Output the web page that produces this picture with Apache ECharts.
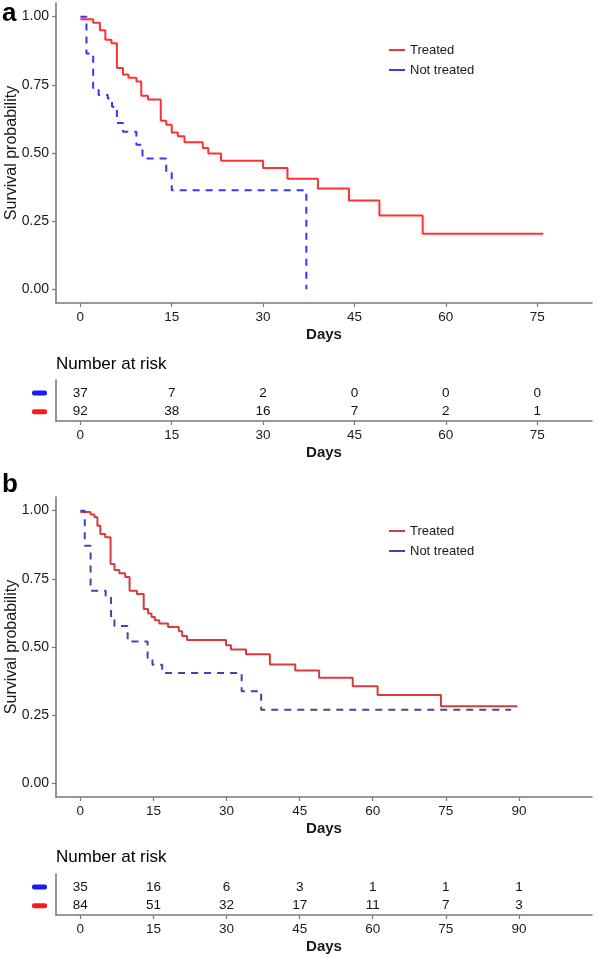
<!DOCTYPE html>
<html><head><meta charset="utf-8">
<script src="https://cdn.jsdelivr.net/npm/echarts@6/dist/echarts.min.js"></script>
<style>html,body{margin:0;padding:0;background:#fff}#c{width:598px;height:958px}</style>
</head><body><div id="c"></div>
<script>
// ---------- data ----------
const xTicksA = [0, 15, 30, 45, 60, 75];
const xTicksB = [0, 15, 30, 45, 60, 75, 90];
const yTicks = [0, 0.25, 0.5, 0.75, 1];

// panel a : Kaplan-Meier steps (time in days, survival probability)
const aTreatedT = [0, 2.1, 3.2, 4.1, 5.1, 6.0, 7.0, 7.9, 9.2, 10.0, 11.1, 13.2, 14.1, 15.0, 16.0, 17.1, 20.1, 21.0, 23.1, 30.0, 34.0, 39.0, 44.1, 49.1, 56.2, 76];
const aTreatedS = [0.99, 0.978, 0.95, 0.915, 0.902, 0.812, 0.788, 0.776, 0.762, 0.71, 0.696, 0.618, 0.604, 0.575, 0.561, 0.539, 0.518, 0.498, 0.472, 0.445, 0.406, 0.370, 0.326, 0.271, 0.204, 0.204];
const aNotT = [0, 1.0, 2.1, 3.0, 4.5, 5.2, 6.0, 7.0, 9.2, 10.2, 14.1, 15.0, 37.1];
const aNotS = [1.0, 0.865, 0.738, 0.713, 0.70, 0.67, 0.61, 0.578, 0.53, 0.48, 0.427, 0.363, 0];

// panel b
const bTreatedT = [0, 2.1, 2.9, 3.5, 4.1, 5.1, 6.2, 7.0, 8.0, 9.2, 10.1, 11.6, 13.0, 13.9, 14.6, 15.3, 16.2, 18.0, 20.2, 20.9, 21.9, 29.9, 30.9, 34.0, 38.9, 44.1, 49.0, 55.9, 61.0, 74.0, 89.7];
const bTreatedS = [0.995, 0.986, 0.976, 0.945, 0.914, 0.902, 0.804, 0.782, 0.770, 0.757, 0.706, 0.694, 0.639, 0.623, 0.610, 0.598, 0.586, 0.573, 0.558, 0.540, 0.526, 0.506, 0.491, 0.473, 0.436, 0.414, 0.387, 0.356, 0.324, 0.283, 0.283];
const bNotT = [0, 0.9, 2.1, 5.2, 6.3, 7.0, 9.7, 13.8, 14.8, 16.8, 33.1, 37.1, 88.4];
const bNotS = [1.0, 0.871, 0.706, 0.688, 0.608, 0.577, 0.52, 0.46, 0.435, 0.405, 0.338, 0.270, 0.270];

// numbers at risk
const riskTimesA = [0, 15, 30, 45, 60, 75];
const riskNotA = [37, 7, 2, 0, 0, 0];
const riskTreatedA = [92, 38, 16, 7, 2, 1];
const riskTimesB = [0, 15, 30, 45, 60, 75, 90];
const riskNotB = [35, 16, 6, 3, 1, 1, 1];
const riskTreatedB = [84, 51, 32, 17, 11, 7, 3];

// ---------- styling ----------
const FONT = '"Liberation Sans", Arial, sans-serif';
const AXIS_COL = '#7a7a7a';
const TXT = '#1a1a1a';
const colA = {treated: '#ff3030', not: '#3636ff'};
const colB = {treated: '#d93a3a', not: '#4444a6'};
const keyCol = {treated: '#ff1a1a', not: '#1a1aff'};

const pairs = (t, s) => t.map((v, i) => [v, s[i]]);
const riskPts = (t, n, row) => t.map((v, i) => [v, row, n[i]]);

function xAxis(grid, min, max, ticks) {
  return {
    type: 'value', gridIndex: grid, min: min, max: max,
    name: 'Days', nameLocation: 'middle', nameGap: 24, nameMoveOverlap: false,
    nameTextStyle: {fontFamily: FONT, fontSize: 15, fontWeight: 'bold', color: TXT},
    axisLine: {show: true, onZero: false, lineStyle: {color: AXIS_COL, width: 1.6}},
    axisTick: {show: true, length: 4, customValues: ticks, lineStyle: {color: AXIS_COL, width: 1.2}},
    axisLabel: {customValues: ticks, margin: 7, fontFamily: FONT, fontSize: 13.5, color: TXT},
    splitLine: {show: false}
  };
}
function yAxisMain(grid) {
  return {
    type: 'value', gridIndex: grid, min: -0.05, max: 1.05,
    name: 'Survival probability', nameLocation: 'middle', nameGap: 36, nameMoveOverlap: false,
    nameTextStyle: {fontFamily: FONT, fontSize: 16, color: TXT},
    axisLine: {show: true, onZero: false, lineStyle: {color: AXIS_COL, width: 1.6}},
    axisTick: {show: true, length: 4, customValues: yTicks, lineStyle: {color: AXIS_COL, width: 1.2}},
    axisLabel: {customValues: yTicks, margin: 7, fontFamily: FONT, fontSize: 14, color: TXT,
      formatter: v => v.toFixed(2)},
    splitLine: {show: false}
  };
}
function yAxisTable(grid) {
  return {
    type: 'value', gridIndex: grid, min: 0.5, max: 2.7,
    axisLine: {show: true, onZero: false, lineStyle: {color: AXIS_COL, width: 1.6}},
    axisTick: {show: false},
    axisLabel: {customValues: [1, 2], margin: 9,
      formatter: v => (v === 2 ? '{n|}' : '{t|}'),
      rich: {
        n: {width: 15, height: 5, backgroundColor: keyCol.not, borderRadius: 2},
        t: {width: 15, height: 5, backgroundColor: keyCol.treated, borderRadius: 2}
      }},
    splitLine: {show: false}
  };
}
function kmSeries(name, data, xi, color, dashed) {
  return {
    type: 'line', name: name, xAxisIndex: xi, yAxisIndex: xi, step: 'end',
    data: data, showSymbol: false, symbol: 'none', animation: false,
    lineStyle: {color: color, width: 2, type: dashed ? [7, 6] : 'solid'},
    itemStyle: {color: color}
  };
}
function riskSeries(data, xi) {
  return {
    type: 'scatter', xAxisIndex: xi, yAxisIndex: xi, data: data, symbolSize: 0,
    itemStyle: {color: '#ffffff'}, animation: false, silent: true, z: 5,
    label: {show: true, position: 'inside', formatter: p => String(p.value[2]),
      fontFamily: FONT, fontSize: 13.5, color: '#111', textBorderWidth: 0, opacity: 1}
  };
}
function legend(top, cols) {
  return {
    orient: 'vertical', left: 389, top: top, padding: 0, itemGap: 6,
    itemWidth: 16, itemHeight: 2, icon: 'rect', selectedMode: false,
    textStyle: {fontFamily: FONT, fontSize: 13, color: TXT, lineHeight: 14},
    data: [
      {name: 'Treated', itemStyle: {color: cols.treated}},
      {name: 'Not treated', itemStyle: {color: cols.not}}
    ]
  };
}

const option = {
  backgroundColor: '#fff',
  animation: false,
  title: [
    {text: 'a', left: 2, top: 1, padding: 0, textStyle: {fontFamily: FONT, fontSize: 26, fontWeight: 'bold', color: '#000'}},
    {text: 'b', left: 2, top: 472, padding: 0, textStyle: {fontFamily: FONT, fontSize: 26, fontWeight: 'bold', color: '#000'}},
    {text: 'Number at risk', left: 56, top: 356, padding: 0, textStyle: {fontFamily: FONT, fontSize: 17, fontWeight: 'normal', color: '#000'}},
    {text: 'Number at risk', left: 56, top: 849, padding: 0, textStyle: {fontFamily: FONT, fontSize: 17, fontWeight: 'normal', color: '#000'}}
  ],
  legend: [legend(43, colA), legend(524, colB)],
  grid: [
    {left: 56, top: 3, width: 536, height: 300, outerBoundsMode: 'none'},
    {left: 56, top: 380, width: 536, height: 41, outerBoundsMode: 'none'},
    {left: 56, top: 497, width: 536, height: 300, outerBoundsMode: 'none'},
    {left: 56, top: 874, width: 536, height: 41, outerBoundsMode: 'none'}
  ],
  xAxis: [
    xAxis(0, -4, 84, xTicksA),
    xAxis(1, -4, 84, xTicksA),
    xAxis(2, -5, 105, xTicksB),
    xAxis(3, -5, 105, xTicksB)
  ],
  yAxis: [yAxisMain(0), yAxisTable(1), yAxisMain(2), yAxisTable(3)],
  series: [
    kmSeries('Treated', pairs(aTreatedT, aTreatedS), 0, colA.treated, false),
    kmSeries('Not treated', pairs(aNotT, aNotS), 0, colA.not, true),
    riskSeries(riskPts(riskTimesA, riskNotA, 2), 1),
    riskSeries(riskPts(riskTimesA, riskTreatedA, 1), 1),
    kmSeries('Treated', pairs(bTreatedT, bTreatedS), 2, colB.treated, false),
    kmSeries('Not treated', pairs(bNotT, bNotS), 2, colB.not, true),
    riskSeries(riskPts(riskTimesB, riskNotB, 2), 3),
    riskSeries(riskPts(riskTimesB, riskTreatedB, 1), 3)
  ]
};
const chart = echarts.init(document.getElementById('c'), null, {renderer: 'canvas'});
chart.setOption(option);
</script></body></html>
